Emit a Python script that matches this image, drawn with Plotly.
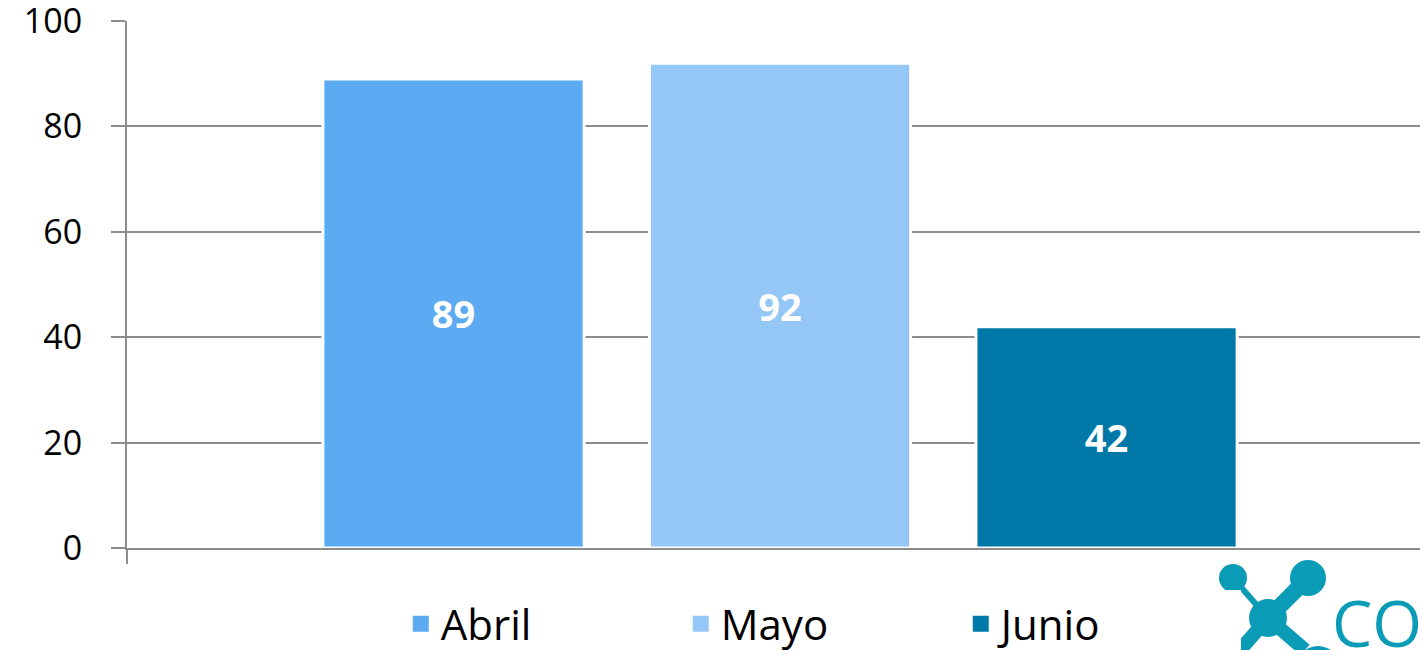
import plotly.graph_objects as go

# ---- data ----
series = ["Abril", "Mayo", "Junio"]
values = [89, 92, 42]
colors = ["#5BAAF2", "#94C6F6", "#0079A8"]
category = [""]
y_ticks = [0, 20, 40, 60, 80, 100]

W, H = 1420, 650
L, R, T, B = 127, 0, 21, 102
PW, PH = W - L - R, H - T - B

fig = go.Figure()
for name, v, c in zip(series, values, colors):
    fig.add_trace(go.Bar(
        x=category, y=[v], name=name, legendgroup=name, showlegend=False,
        marker=dict(color=c, line=dict(color="white", width=3)),
        texttemplate="%{y}", textposition="inside", insidetextanchor="middle",
        textfont=dict(color="white", size=38, family="Open Sans", weight="bold"),
        textangle=0,
    ))
# legend entries with larger square swatches
for name, c in zip(series, colors):
    fig.add_trace(go.Scatter(
        x=[None], y=[None], name=name, legendgroup=name, mode="markers",
        marker=dict(symbol="square", size=24, color=c), hoverinfo="skip",
    ))

grid = "#8c8c8c"
fig.update_layout(
    width=W, height=H,
    margin=dict(l=L, r=R, t=T, b=B, autoexpand=False),
    paper_bgcolor="white", plot_bgcolor="white",
    barmode="group", bargap=0.25, bargroupgap=0.2,
    font=dict(family="Open Sans", color="black"),
    showlegend=True,
    legend=dict(orientation="h", xref="container", yref="container",
                x=0.578, xanchor="center", y=0.040, yanchor="middle",
                font=dict(size=42, family="Open Sans", color="black"),
                entrywidth=235, entrywidthmode="pixels",
                traceorder="normal"),
)
fig.update_xaxes(
    type="category", range=[-0.5, 0.49],
    showline=True, linecolor=grid, linewidth=2,
    ticks="outside", tickson="boundaries", ticklen=14, tickcolor=grid, tickwidth=2,
    showticklabels=False, showgrid=False, zeroline=False, fixedrange=True,
)
fig.update_yaxes(
    range=[0, 100], tickvals=y_ticks, ticktext=[str(t) for t in y_ticks],
    showline=True, linecolor=grid, linewidth=2,
    ticks="outside", ticklen=14, tickcolor=grid, tickwidth=2,
    showgrid=True, gridcolor=grid, gridwidth=2, zeroline=False,
    tickfont=dict(size=34, family="Open Sans", color="black"),
    ticklabelstandoff=22, ticklabeloverflow="allow", fixedrange=True,
)

# ---- decorative logo (bottom right) ----
teal = "#0A9BB6"
def px(xp):
    return (xp - L) / PW
def py(yp):
    return (H - B - yp) / PH

def circ(cx, cy, r):
    fig.add_shape(type="circle", xref="paper", yref="paper",
                  x0=px(cx - r), x1=px(cx + r), y0=py(cy + r), y1=py(cy - r),
                  fillcolor=teal, line=dict(width=0), layer="above")

def seg(x0, y0, x1, y1, w):
    fig.add_shape(type="line", xref="paper", yref="paper",
                  x0=px(x0), y0=py(y0), x1=px(x1), y1=py(y1),
                  line=dict(color=teal, width=w), layer="above")

seg(1268, 618, 1300, 586, 16)
seg(1268, 618, 1240, 586, 6)
seg(1268, 618, 1240, 650, 14)
seg(1268, 618, 1305, 650, 14)
circ(1233, 578, 14)
circ(1308, 578, 18)
circ(1268, 618, 19)
circ(1232, 665, 18)
circ(1318, 668, 22)
fig.add_annotation(xref="paper", yref="paper", x=px(1330), y=py(668),
                   xanchor="left", yanchor="bottom", text="CO", showarrow=False,
                   font=dict(size=64, family="Open Sans", color=teal))

fig.write_html("out.html", config={"displayModeBar": False},
               post_script="document.body.style.margin='0';document.body.style.overflow='hidden';")
